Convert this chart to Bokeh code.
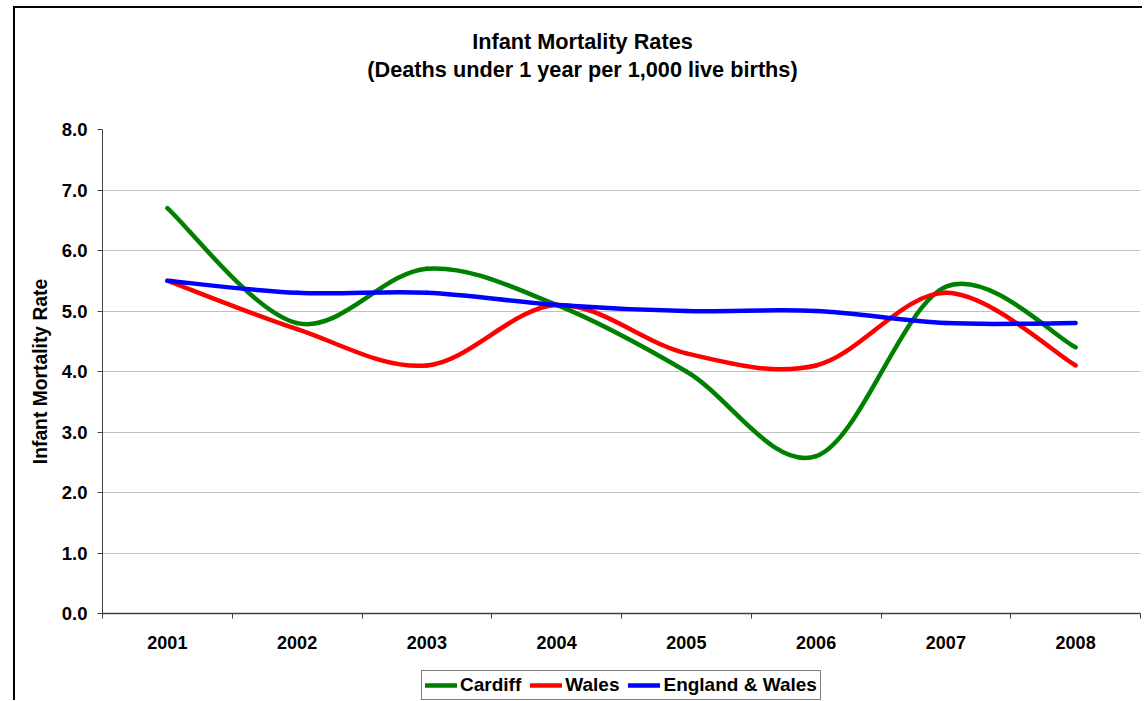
from bokeh.plotting import figure
from bokeh.layouts import column
from bokeh.models import (FixedTicker, Legend, LegendItem, Range1d, Label,
                          NumeralTickFormatter)
from bokeh.embed import file_html
from bokeh.resources import INLINE

years = ["2001", "2002", "2003", "2004", "2005", "2006", "2007", "2008"]
cardiff = [6.7, 4.8, 5.7, 5.1, 4.0, 2.6, 5.4, 4.4]
wales = [5.5, 4.7, 4.1, 5.1, 4.3, 4.1, 5.3, 4.1]
eng_wales = [5.5, 5.3, 5.3, 5.1, 5.0, 5.0, 4.8, 4.8]

series = [("Cardiff", cardiff, "#008000"),
          ("Wales", wales, "#ff0000"),
          ("England & Wales", eng_wales, "#0000ff")]

title_text = "Infant Mortality Rates"
subtitle_text = "(Deaths under 1 year per 1,000 live births)"
y_label = "Infant Mortality Rate"

FONT = "Liberation Sans"
W = 1127

# ---------- title strip (frame aligns with the chart frame) ----------
HT = 99
t = figure(width=W, height=HT, output_backend="svg", toolbar_location=None,
           x_range=Range1d(102, 1140), y_range=Range1d(HT, 0),
           x_axis_location=None, y_axis_location=None, min_border=0)
t.outline_line_color = None
t.grid.visible = False
t.add_layout(Label(x=582, y=33, text=title_text, text_align="center",
                   text_baseline="middle", text_font=FONT, text_font_size="21.7px",
                   text_font_style="bold", text_color="black"))
t.add_layout(Label(x=582, y=61, text=subtitle_text, text_align="center",
                   text_baseline="middle", text_font=FONT, text_font_size="21.7px",
                   text_font_style="bold", text_color="black"))

# ---------- main chart ----------
p = figure(width=W, height=557, output_backend="svg", toolbar_location=None,
           x_range=Range1d(0, len(years)), y_range=Range1d(0, 8),
           min_border_left=87, min_border_right=2, min_border_top=22,
           min_border_bottom=51)
p.outline_line_color = None

centers = [i + 0.5 for i in range(len(years))]
p.xaxis.ticker = FixedTicker(ticks=centers, minor_ticks=list(range(len(years) + 1)))
p.xaxis.major_label_overrides = {c: y for c, y in zip(centers, years)}
p.xaxis.major_tick_out = 0
p.xaxis.major_tick_in = 0
p.xaxis.minor_tick_out = 5
p.xaxis.minor_tick_in = 0
p.xaxis.minor_tick_line_color = "#404040"
p.xaxis.axis_line_color = "#404040"
p.xaxis.axis_line_width = 1.5
p.xaxis.major_label_standoff = 17
p.xaxis.major_label_text_font = FONT
p.xaxis.major_label_text_font_size = "18px"
p.xaxis.major_label_text_font_style = "bold"
p.xaxis.major_label_text_color = "black"
p.xgrid.grid_line_color = None

p.yaxis.ticker = FixedTicker(ticks=list(range(0, 9)))
p.yaxis.formatter = NumeralTickFormatter(format="0.0")
p.yaxis.major_tick_out = 5
p.yaxis.major_tick_in = 0
p.yaxis.minor_tick_out = 0
p.yaxis.minor_tick_in = 0
p.yaxis.major_tick_line_color = "#404040"
p.yaxis.axis_line_color = "#404040"
p.yaxis.major_label_standoff = 10
p.yaxis.major_label_text_font = FONT
p.yaxis.major_label_text_font_size = "18.5px"
p.yaxis.major_label_text_font_style = "bold"
p.yaxis.major_label_text_color = "black"
p.yaxis.axis_label = y_label
p.yaxis.axis_label_text_font = FONT
p.yaxis.axis_label_text_font_size = "19.3px"
p.yaxis.axis_label_text_font_style = "bold"
p.yaxis.axis_label_text_color = "black"
p.yaxis.axis_label_standoff = 8
p.ygrid.grid_line_color = "#c0c0c0"
p.ygrid.grid_line_width = 1


def smooth_segments(xs, ys, k=1.0 / 6.0):
    n = len(xs)
    seg = dict(x0=[], y0=[], x1=[], y1=[], cx0=[], cy0=[], cx1=[], cy1=[])
    for i in range(n - 1):
        im1 = max(i - 1, 0)
        ip2 = min(i + 2, n - 1)
        seg["x0"].append(xs[i]); seg["y0"].append(ys[i])
        seg["x1"].append(xs[i + 1]); seg["y1"].append(ys[i + 1])
        seg["cx0"].append(xs[i] + (xs[i + 1] - xs[im1]) * k)
        seg["cy0"].append(ys[i] + (ys[i + 1] - ys[im1]) * k)
        seg["cx1"].append(xs[i + 1] - (xs[ip2] - xs[i]) * k)
        seg["cy1"].append(ys[i + 1] - (ys[ip2] - ys[i]) * k)
    return seg


for name, vals, color in series:
    s = smooth_segments(centers, vals)
    p.bezier(x0="x0", y0="y0", x1="x1", y1="y1", cx0="cx0", cy0="cy0",
             cx1="cx1", cy1="cy1", source=s, line_color=color,
             line_width=4.5, line_cap="round", line_join="round")

# ---------- legend strip ----------
HL = 36
nan = float("nan")
lg = figure(width=W, height=HL, output_backend="svg", toolbar_location=None,
            x_range=Range1d(0, 1), y_range=Range1d(0, 1),
            x_axis_location=None, y_axis_location=None, min_border=0)
lg.outline_line_color = None
lg.grid.visible = False
items = []
for name, vals, color in series:
    r = lg.line(x=[nan], y=[nan], line_color=color, line_width=4.5,
                line_cap="round")
    items.append(LegendItem(label=name, renderers=[r]))
legend = Legend(items=items, orientation="horizontal", location=(319, 0),
                label_text_font=FONT, label_text_font_size="19px",
                label_text_font_style="bold", label_text_color="black",
                glyph_width=32, glyph_height=20, label_standoff=3, spacing=9,
                padding=3, margin=0, border_line_color="black",
                border_line_width=1, background_fill_color="white",
                label_height=20)
lg.add_layout(legend, "center")

layout = column(t, p, lg, spacing=0, margin=(6, 0, 0, 13),
                styles={"border-left": "2px solid black",
                        "border-top": "2px solid black"})

open("out.html", "w").write(file_html(layout, INLINE))
